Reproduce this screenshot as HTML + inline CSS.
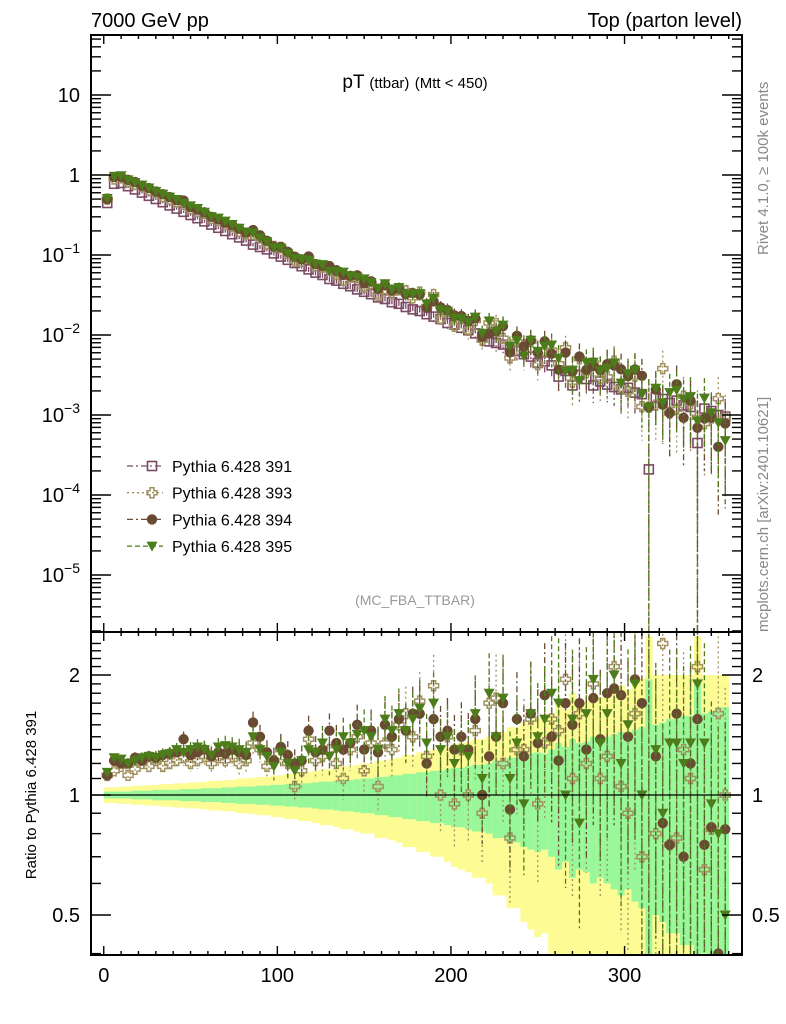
<!DOCTYPE html>
<html><head><meta charset="utf-8"><style>
html,body{margin:0;padding:0;background:#fff;overflow:hidden;width:786px;height:1024px;}
svg{display:block;font-family:"Liberation Sans",sans-serif;}
</style></head><body>
<svg id="chart" width="786" height="1024" viewBox="0 0 786 1024">
<defs>
<clipPath id="cpMain"><rect x="91" y="35" width="651" height="597"/></clipPath>
<clipPath id="cpRatio"><rect x="91" y="632" width="651" height="323"/></clipPath>
</defs>
<text x="91" y="27" font-size="20">7000 GeV pp</text>
<text x="742" y="27" font-size="20" text-anchor="end">Top (parton level)</text>
<text x="415" y="88" font-size="19" text-anchor="middle">pT <tspan font-size="15">(ttbar)</tspan> <tspan font-size="15">(Mtt &lt; 450)</tspan></text>
<text x="415" y="605" font-size="14" fill="#999" text-anchor="middle">(MC_FBA_TTBAR)</text>
<text transform="translate(768,255) rotate(-90)" font-size="15" fill="#888">Rivet 4.1.0, ≥ 100k events</text>
<text transform="translate(768,632) rotate(-90)" font-size="15" fill="#888">mcplots.cern.ch [arXiv:2401.10621]</text>
<text transform="translate(36,795) rotate(-90)" font-size="15" text-anchor="middle">Ratio to Pythia 6.428 391</text>
<g id="bands" clip-path="url(#cpRatio)"></g>
<g id="mainMarks" clip-path="url(#cpMain)"></g>
<g id="ratioMarks" clip-path="url(#cpRatio)"></g>
<line x1="91" y1="795" x2="742" y2="795" stroke="#000" stroke-width="1.2"/>
<g id="axes"></g>
<rect x="91" y="35" width="651" height="597" fill="none" stroke="#000" stroke-width="2"/>
<rect x="91" y="632" width="651" height="323" fill="none" stroke="#000" stroke-width="2"/>
<g id="legend"></g>
</svg>
<script>
const binCenters = [2,6,10,14,18,22,26,30,34,38,42,46,50,54,58,62,66,70,74,78,82,86,90,94,98,102,106,110,114,118,122,126,130,134,138,142,146,150,154,158,162,166,170,174,178,182,186,190,194,198,202,206,210,214,218,222,226,230,234,238,242,246,250,254,258,262,266,270,274,278,282,286,290,294,298,302,306,310,314,318,322,326,330,334,338,342,346,350,354,358];
const log391 = [-0.35,-0.11,-0.10,-0.14,-0.18,-0.22,-0.26,-0.30,-0.34,-0.38,-0.42,-0.46,-0.50,-0.54,-0.58,-0.62,-0.66,-0.70,-0.74,-0.78,-0.82,-0.87,-0.90,-0.93,-0.98,-1.02,-1.06,-1.10,-1.14,-1.18,-1.22,-1.25,-1.30,-1.32,-1.36,-1.39,-1.43,-1.46,-1.49,-1.53,-1.55,-1.59,-1.61,-1.65,-1.68,-1.70,-1.74,-1.77,-1.80,-1.85,-1.87,-1.91,-1.94,-1.98,-2.02,-2.08,-2.10,-2.12,-2.18,-2.20,-2.24,-2.27,-2.35,-2.33,-2.38,-2.52,-2.45,-2.63,-2.50,-2.55,-2.63,-2.58,-2.62,-2.65,-2.68,-2.66,-2.72,-2.74,-3.68,-2.78,-2.80,-2.85,-2.82,-2.88,-2.90,-3.35,-2.92,-2.95,-3.00,-3.02];
const ratio393 = [1.12,1.15,1.18,1.12,1.16,1.20,1.18,1.22,1.18,1.20,1.22,1.24,1.20,1.22,1.25,1.20,1.24,1.22,1.25,1.20,1.22,1.35,1.30,1.18,1.22,1.30,1.20,1.05,1.15,1.38,1.22,1.25,1.30,1.20,1.10,1.30,1.40,1.15,1.35,1.05,1.35,1.30,1.50,1.60,1.40,1.72,1.25,1.88,1.00,1.40,0.95,1.30,1.00,1.45,0.90,1.70,1.75,1.20,0.78,1.30,1.30,1.55,0.95,1.35,1.55,1.45,1.95,1.10,1.60,1.20,1.90,1.10,1.25,2.10,1.05,0.90,1.60,0.70,6.0,0.80,2.40,0.75,0.78,1.30,1.10,2.10,0.65,0.82,1.60,1.00];
const ratio394 = [1.12,1.22,1.20,1.20,1.24,1.22,1.25,1.24,1.26,1.27,1.28,1.38,1.26,1.28,1.30,1.25,1.28,1.27,1.30,1.28,1.26,1.52,1.40,1.28,1.22,1.32,1.26,1.20,1.22,1.45,1.28,1.30,1.45,1.35,1.30,1.35,1.50,1.30,1.45,1.28,1.50,1.40,1.55,1.45,1.60,1.60,1.20,1.55,1.40,1.45,1.30,1.40,1.30,1.55,1.00,1.25,1.40,1.70,0.92,1.55,1.25,1.60,1.35,1.78,1.40,1.22,1.70,1.50,1.70,1.30,1.75,1.38,1.80,1.85,1.78,1.40,1.95,1.70,6.0,1.25,0.85,0.75,1.60,0.70,1.20,1.55,0.75,0.83,0.40,0.82];
const ratio395 = [1.14,1.24,1.23,1.20,1.22,1.24,1.25,1.24,1.26,1.27,1.30,1.28,1.30,1.32,1.30,1.26,1.32,1.33,1.32,1.30,1.28,1.40,1.30,1.25,1.18,1.28,1.20,1.15,1.22,1.30,1.28,1.35,1.25,1.30,1.40,1.35,1.42,1.45,1.40,1.30,1.55,1.45,1.60,1.45,1.55,1.65,1.35,1.70,1.30,1.40,1.20,1.30,1.25,1.60,1.10,1.80,1.40,1.75,1.10,1.35,0.95,1.60,1.40,1.55,1.80,1.70,1.00,1.55,0.85,1.60,1.95,1.35,1.60,2.00,1.20,1.50,1.90,1.00,6.0,1.30,0.90,1.35,1.35,1.20,1.35,1.90,1.35,0.95,0.80,0.50];
const statErr = [0.02,0.02,0.02,0.02,0.025,0.025,0.025,0.03,0.03,0.03,0.03,0.035,0.035,0.035,0.04,0.04,0.04,0.045,0.045,0.05,0.05,0.05,0.055,0.055,0.06,0.06,0.065,0.065,0.07,0.07,0.075,0.08,0.08,0.085,0.09,0.09,0.095,0.10,0.10,0.11,0.11,0.12,0.12,0.13,0.13,0.14,0.14,0.15,0.15,0.16,0.17,0.17,0.18,0.19,0.19,0.20,0.22,0.22,0.24,0.24,0.26,0.27,0.28,0.27,0.30,0.35,0.32,0.38,0.35,0.36,0.40,0.38,0.40,0.42,0.44,0.42,0.46,0.48,0.95,0.50,0.52,0.55,0.55,0.58,0.58,0.90,0.60,0.62,0.66,0.66];
const totErr = [0.045,0.045,0.05,0.05,0.055,0.055,0.06,0.06,0.065,0.065,0.07,0.07,0.075,0.075,0.08,0.085,0.085,0.09,0.09,0.10,0.10,0.105,0.11,0.11,0.12,0.12,0.13,0.13,0.14,0.14,0.15,0.16,0.16,0.17,0.18,0.18,0.19,0.20,0.20,0.22,0.22,0.23,0.24,0.26,0.26,0.28,0.28,0.30,0.30,0.32,0.34,0.35,0.36,0.38,0.38,0.40,0.44,0.44,0.48,0.48,0.52,0.54,0.56,0.55,0.60,0.70,0.64,0.80,0.70,0.72,0.80,0.76,0.80,0.85,0.88,0.84,0.92,0.96,1.5,1.0,1.0,1.0,1.0,1.0,1.0,1.5,1.0,1.0,1.0,1.0];
const seriesNames = ["Pythia 6.428 391","Pythia 6.428 393","Pythia 6.428 394","Pythia 6.428 395"];
const binWidth = 4;

const NS="http://www.w3.org/2000/svg";
const xs = v => 103.75 + v*1.736;
const ym = lv => 175 - 80*lv;
const yr = r => 795 - 398.6*Math.log10(Math.max(r,1e-3));
function mk(tag, attrs, parent){const e=document.createElementNS(NS,tag);for(const k in attrs)e.setAttribute(k,attrs[k]);parent.appendChild(e);return e;}

const styles=[
 {c:"#7b4a63",m:"square",dash:"6,3,2,3"},
 {c:"#a0915f",m:"cross",dash:"2,3"},
 {c:"#6a4a32",m:"circle",dash:"6,3,2,3"},
 {c:"#4d7c1a",m:"tri",dash:"5,3"}];
function marker(p,x,y,s,name){
 let e;
 if(s.m==="square") e=mk("rect",{x:x-4.5,y:y-4.5,width:9,height:9,fill:"none",stroke:s.c,"stroke-width":1.6},p);
 else if(s.m==="cross"){const a=2,b=5;e=mk("path",{d:`M${x-a},${y-b}h${2*a}v${b-a}h${b-a}v${2*a}h${a-b}v${b-a}h${-2*a}v${a-b}h${a-b}v${-2*a}h${b-a}z`,fill:"none",stroke:s.c,"stroke-width":1.5},p);}
 else if(s.m==="circle") e=mk("circle",{cx:x,cy:y,r:5.2,fill:s.c},p);
 else e=mk("path",{d:`M${x-5.5},${y-4.5}L${x+5.5},${y-4.5}L${x},${y+5.5}z`,fill:s.c},p);
 
 
 return e;
}

const bands=document.getElementById("bands");
binCenters.forEach((c,i)=>{
 const x0=xs(c-binWidth/2), w=xs(c+binWidth/2)-x0+0.3;
 const ty1=yr(1+totErr[i]), ty2=yr(Math.max(1-totErr[i],0.01));
 const y=mk("rect",{x:x0,y:ty1,width:w,height:ty2-ty1,fill:"#fdfb93"},bands);
 
 
 const gy1=yr(1+statErr[i]), gy2=yr(Math.max(1-statErr[i],0.01));
 const g=mk("rect",{x:x0,y:gy1,width:w,height:gy2-gy1,fill:"#98f79a"},bands);
 
 
});

const ratios=[null,ratio393,ratio394,ratio395];
const mainG=document.getElementById("mainMarks"), ratG=document.getElementById("ratioMarks");
for(let s=0;s<4;s++){
 const st=styles[s];
 binCenters.forEach((c,i)=>{
  const r = s===0?1:ratios[s][i];
  const lv = log391[i]+Math.log10(r);
  const e = statErr[i]*(s===0?1:1.3);
  const x=xs(c);
  const v=Math.pow(10,lv);
  const eb=mk("line",{x1:x,x2:x,y1:ym(Math.log10(v*(1+e))),y2:ym(Math.log10(Math.max(v*(1-e),1e-8))),stroke:st.c,"stroke-width":1.3,"stroke-dasharray":st.dash},mainG);
  
  
  marker(mainG,x,ym(lv),st,'point-'+s);
  if(s>0){
   const rb=mk("line",{x1:x,x2:x,y1:yr(r*(1+e)),y2:yr(Math.max(r*(1-e),0.01)),stroke:st.c,"stroke-width":1.3,"stroke-dasharray":st.dash},ratG);
   
   
   marker(ratG,x,yr(r),st,'ratio-point-'+s);
  }
 });
}

const ax=document.getElementById("axes");
function ln(x1,y1,x2,y2,name){const l=mk("line",{x1,y1,x2,y2,stroke:"#000","stroke-width":1.4},ax);}
function tx(x,y,t,anchor,size,name){const e=mk("text",{x,y,"font-size":size,"text-anchor":anchor},ax);e.textContent=t;return e;}
const xTicks=[0,100,200,300];
for(let v=0;v<=360;v+=10){
 const x=xs(v), L=v%100===0?9:4;
 ln(x,955,x,955-L,'x-tick');ln(x,632,x,632-L,'x-tick');ln(x,632,x,632+L,'x-tick');ln(x,35,x,35+L,'x-tick');
}
xTicks.forEach(v=>tx(xs(v),982,String(v),"middle",20,'x-tick-label'));
const yMajor=[1,0,-1,-2,-3,-4,-5];
const yLabels=["10","1"];
for(let d=-6;d<=1;d++){for(let k=1;k<10;k++){const lv=d+Math.log10(k);const y=ym(lv);if(y<36||y>631)continue;const L=k===1?20:10;ln(91,y,91+L,y,'y-tick');ln(742,y,742-L,y,'y-tick');}}
yMajor.forEach((d,i)=>{
 const t=tx(80,ym(d)+7,"", "end",20,'y-tick-label');
 if(i<2){t.textContent=yLabels[i];}
 else{t.textContent="10";const sp=document.createElementNS(NS,"tspan");sp.setAttribute("dy","-9");sp.setAttribute("font-size","14");sp.textContent="−"+(-d);t.appendChild(sp);}
});
const rMajor=[0.5,1,2];
for(let v=0.4;v<=2.5;v+=0.1){const y=yr(v);if(y<633||y>954)continue;const big=Math.abs(v-0.5)<1e-6||Math.abs(v-1)<1e-6||Math.abs(v-2)<1e-6;const L=big?20:10;ln(91,y,91+L,y,'ratio-y-tick');ln(742,y,742-L,y,'ratio-y-tick');}
rMajor.forEach(v=>{tx(80,yr(v)+7,String(v),"end",20,'ratio-tick-label');tx(752,yr(v)+7,String(v),"start",20,'ratio-tick-label-right');});

const lg=document.getElementById("legend");
seriesNames.forEach((n,i)=>{
 const y=466+i*26.7;
 const l=mk("line",{x1:127,x2:163,y1:y,y2:y,stroke:styles[i].c,"stroke-width":1.3,"stroke-dasharray":styles[i].dash},lg);
 
 
 marker(lg,152,y,styles[i],'legend-marker');
 const t=mk("text",{x:172,y:y+6,"font-size":16},lg);t.textContent=n;
 
 
});
</script>
</body></html>
